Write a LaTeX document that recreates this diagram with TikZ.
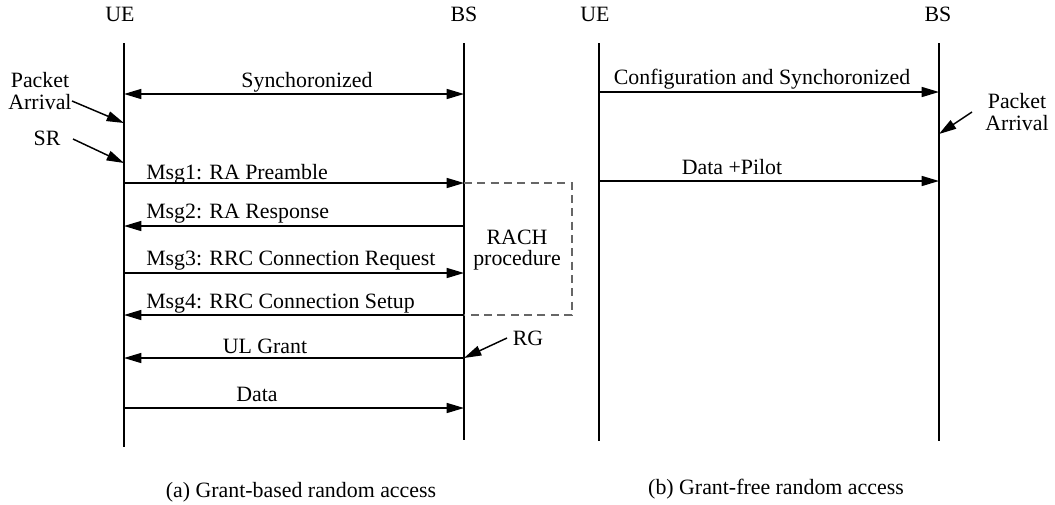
\documentclass[tikz,border=0pt]{standalone}
\usepackage{fontspec}
\setmainfont{Liberation Serif}
\usetikzlibrary{arrows.meta}

\begin{document}
\begin{tikzpicture}[x=0.75pt,y=-0.75pt,
	>={Triangle[length=13pt,width=7.5pt]},
	life/.style={line width=1.2pt},
	msg/.style={line width=1.1pt,->},
	rachbox/.style={line width=0.9pt,gray!80!black,dash pattern=on 6pt off 4pt},
	lbl/.style={inner sep=0pt,font=\fontsize{16.4}{16}\selectfont}]
	\useasboundingbox (0,0) rectangle (1055,504);
	% lifelines
	\foreach \n/\x/\e in {ueA/124/447,bsA/464/440,ueB/599/441,bsB/939/441}{
		\coordinate (\n-top) at (\x,43);
		\coordinate (\n-bot) at (\x,\e);
		\draw[life] (\n-top) -- (\n-bot);
	}
	\foreach \n/\x/\t in {ueA/120/UE,bsA/464/BS,ueB/595/UE,bsB/938/BS}{
		\node[lbl,anchor=base] (h-\n) at (\x,21) {\t};
	}
	% (a) grant-based
	\foreach \m/\y in {sync/94,m1/183,m2/226,m3/273,m4/315,ulg/358,dat/408,rg/358}{
		\coordinate (ueA-\m) at (124,\y);
		\coordinate (bsA-\m) at (464,\y);
	}
	\draw[msg,<->] (ueA-sync) -- (bsA-sync);
	\foreach \m/\s/\t in {m1/ueA/bsA,m2/bsA/ueA,m3/ueA/bsA,m4/bsA/ueA,ulg/bsA/ueA,dat/ueA/bsA}{
		\draw[msg] (\s-\m) -- (\t-\m);
	}
	\node[lbl,anchor=base] (l-sync) at (307,87) {Synchoronized};
	\foreach \m/\y/\t in {m1/179/Msg1: RA Preamble,m2/218/Msg2: RA Response,m3/265/Msg3: RRC Connection Request,m4/308/Msg4: RRC Connection Setup}{
		\node[lbl,anchor=base west] (l-\m) at (146,\y) {\t};
	}
	\node[lbl,anchor=base] (l-ulg) at (265,353) {UL Grant};
	\node[lbl,anchor=base] (l-dat) at (257,401) {Data};

	\node[lbl,align=center] (paA) at (40,91) {Packet\\Arrival};
	\coordinate (paA-tail) at (72,101);
	\coordinate (ueA-pa) at (124,123);
	\draw[msg] (paA-tail) -- (ueA-pa);
	\node[lbl,anchor=base] (sr) at (47,145) {SR};
	\coordinate (sr-tail) at (73,139);
	\coordinate (ueA-sr) at (124,163);
	\draw[msg] (sr-tail) -- (ueA-sr);

	\coordinate (box-ne) at (572,183);
	\coordinate (box-se) at (572,315);
	\draw[rachbox] (bsA-m1) -- (box-ne) -- (box-se) -- (bsA-m4);
	\node[lbl,align=center] (rach) at (517,250) {RACH\\procedure};

	\node[lbl,anchor=base] (rg) at (528,345) {RG};
	\coordinate (rg-tail) at (507,338);
	\draw[msg] (rg-tail) -- (bsA-rg);

	% (b) grant-free
	\foreach \m/\y in {cfg/92,dat/181}{
		\coordinate (ueB-\m) at (599,\y);
		\coordinate (bsB-\m) at (939,\y);
		\draw[msg] (ueB-\m) -- (bsB-\m);
	}
	\node[lbl,anchor=base] (l-cfg) at (762,84) {Configuration and Synchoronized};
	\node[lbl,anchor=base] (l-dp) at (732,174) {Data +Pilot};

	\node[lbl,align=center] (paB) at (1017,112) {Packet\\Arrival};
	\coordinate (paB-tail) at (972,112);
	\coordinate (bsB-pa) at (939,134);
	\draw[msg] (paB-tail) -- (bsB-pa);

	\node[lbl,anchor=base] (cap-a) at (301,497) {(a) Grant-based random access};
	\node[lbl,anchor=base] (cap-b) at (776,494) {(b) Grant-free random access};
\end{tikzpicture}
\end{document}
